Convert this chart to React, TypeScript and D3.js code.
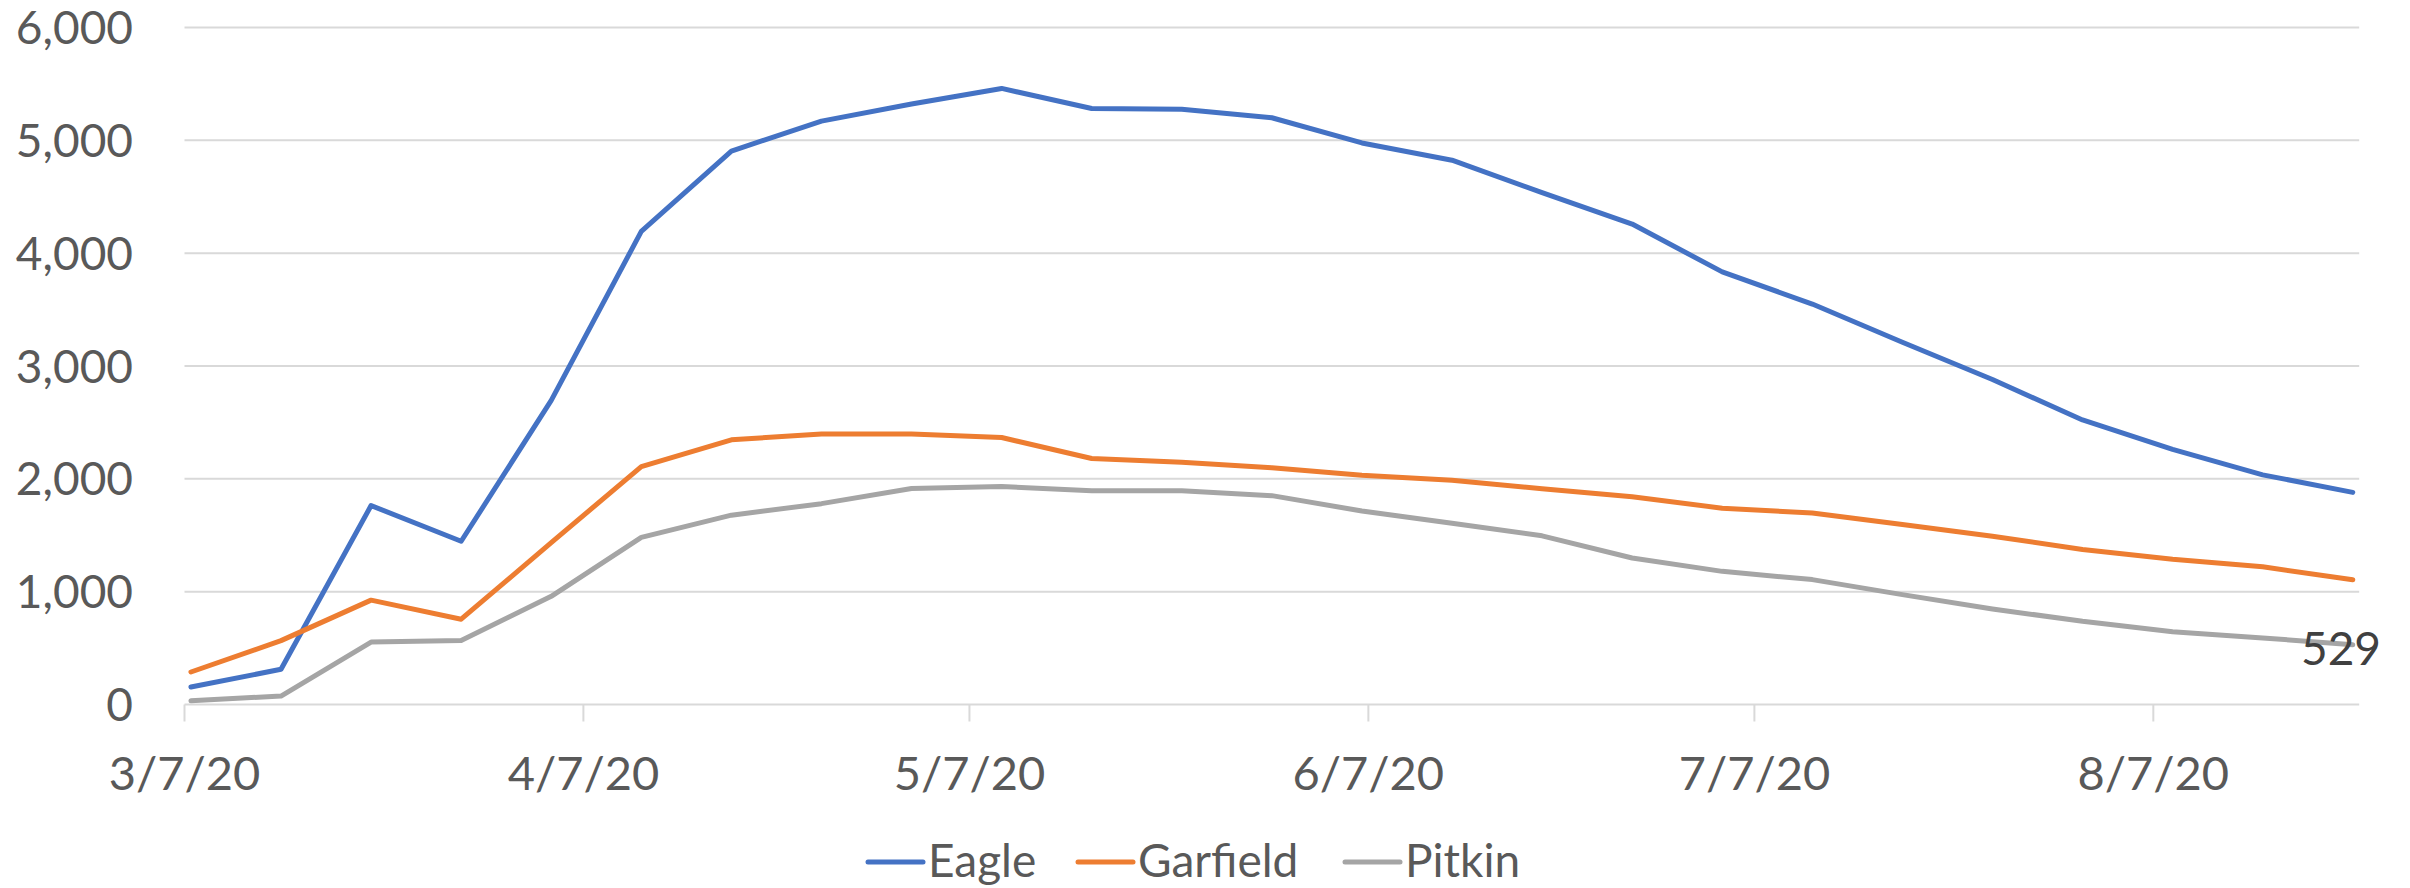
import React from "react";
import * as d3 from "d3";

// ---- data (weekly, starting 3/7/2020) ----
const startDate = Date.UTC(2020, 2, 7);
const weekCount = 25;
const eagle = [155, 312, 1763, 1447, 2695, 4193, 4905, 5170, 5322, 5460, 5282, 5275, 5200, 4977, 4824, 4536, 4258, 3834, 3549, 3210, 2880, 2522, 2261, 2035, 1880];
const garfield = [288, 566, 925, 756, 1434, 2109, 2346, 2397, 2397, 2366, 2180, 2146, 2098, 2031, 1987, 1912, 1841, 1740, 1697, 1595, 1492, 1373, 1287, 1220, 1105];
const pitkin = [33, 75, 553, 567, 959, 1481, 1678, 1780, 1915, 1932, 1895, 1895, 1851, 1715, 1607, 1495, 1298, 1180, 1107, 974, 847, 737, 645, 590, 529];
const seriesNames = ["Eagle", "Garfield", "Pitkin"];
const seriesColors = ["#4472C4", "#ED7D31", "#A5A5A5"];
const yTicks = [0, 1000, 2000, 3000, 4000, 5000, 6000];
const xTickDates = [
  Date.UTC(2020, 2, 7),
  Date.UTC(2020, 3, 7),
  Date.UTC(2020, 4, 7),
  Date.UTC(2020, 5, 7),
  Date.UTC(2020, 6, 7),
  Date.UTC(2020, 7, 7),
];
const lastLabel = "529";

const DAY = 86400000;

export default function App() {
  const W = 2410, H = 888;
  const x = d3.scaleUtc()
    .domain([new Date(startDate), new Date(startDate + (7 * (weekCount - 1) + 1) * DAY)])
    .range([184.5, 2359.2]);
  const y = d3.scaleLinear().domain([0, 6000]).range([704.5, 27.5]);

  const dates = d3.range(weekCount).map((i) => new Date(startDate + (7 * i + 0.5) * DAY));
  const all = [eagle, garfield, pitkin];
  const line = d3.line<number>()
    .x((_, i) => x(dates[i]))
    .y((v) => y(v));

  const fmt = d3.format(",");
  const fmtDate = d3.utcFormat("%-m/%-d/%y");
  const font = "Lato, 'Open Sans', sans-serif";
  const fs = 46;

  const legendX = [868, 1078, 1345];

  return (
    <svg width={W} height={H} style={{ position: "absolute", left: 0, top: 0, background: "#fff" }} fontFamily={font}>
      {yTicks.map((t) => (
        <g key={t}>
          <line x1={184.5} x2={2359.2} y1={y(t)} y2={y(t)} stroke="#d9d9d9" strokeWidth={2} />
          <text x={133} y={y(t)} dy="0.36em" textAnchor="end" fontSize={fs} fill="#595959">{fmt(t)}</text>
        </g>
      ))}
      {xTickDates.map((d) => (
        <g key={d}>
          <line x1={x(new Date(d))} x2={x(new Date(d))} y1={y(0)} y2={y(0) + 17} stroke="#d9d9d9" strokeWidth={2} />
          <text x={x(new Date(d))} y={790} textAnchor="middle" fontSize={47} fill="#595959">{fmtDate(new Date(d))}</text>
        </g>
      ))}
      {all.map((s, i) => (
        <path key={i} d={line(s) || ""} fill="none" stroke={seriesColors[i]} strokeWidth={5} strokeLinejoin="round" strokeLinecap="round" />
      ))}
      <text x={2381} y={665} textAnchor="end" fontSize={fs} fill="#404040">{lastLabel}</text>
      {seriesNames.map((n, i) => (
        <g key={n}>
          <line x1={legendX[i]} x2={legendX[i] + 55} y1={862} y2={862} stroke={seriesColors[i]} strokeWidth={5} strokeLinecap="round" />
          <text x={legendX[i] + 60} y={877} fontSize={fs} fill="#595959">{n}</text>
        </g>
      ))}
    </svg>
  );
}
